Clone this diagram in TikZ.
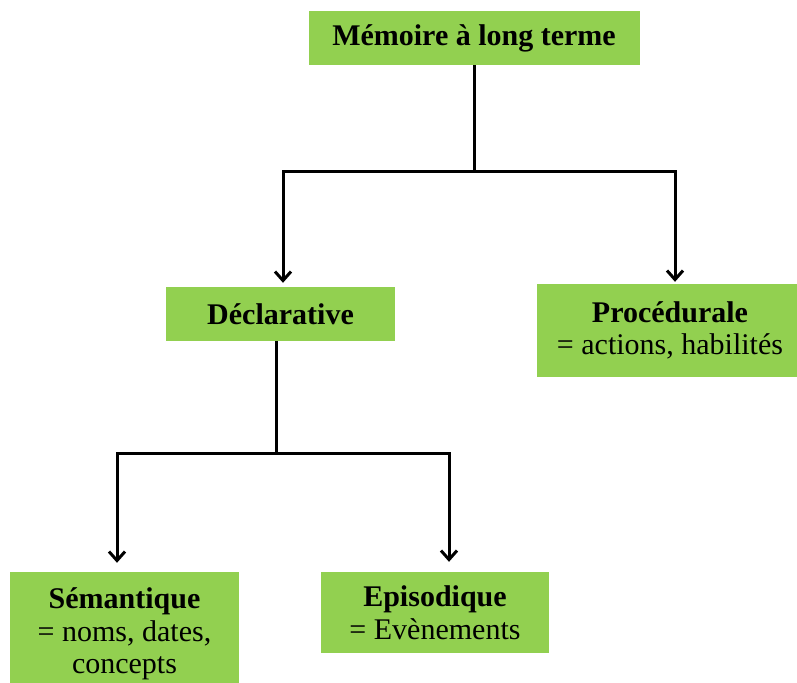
\documentclass[tikz,border=0pt]{standalone}
\usepackage{fontspec}
\setmainfont{Liberation Serif}
\usetikzlibrary{arrows.meta}
\definecolor{boxgreen}{HTML}{92D050}
\newcommand{\hd}[1]{{\bfseries #1}}
\begin{document}
\begin{tikzpicture}[x=1pt,y=-1pt,
  box/.style={rectangle, fill=boxgreen, draw=none, inner sep=0pt, align=center,
    font=\fontsize{30}{32.5}\selectfont},
  link/.style={line width=3pt, black},
  arr/.style={link, -{Straight Barb[length=9pt,width=16pt,line width=3pt]}}]
\useasboundingbox (0,0) rectangle (797,682);
\node[box, minimum width=331pt, minimum height=54pt] (top) at (474,38) {\hd{Mémoire à long terme}};
\node[box, minimum width=229pt, minimum height=54pt] (decl) at (280.5,314) {\hd{Déclarative}};
\node[box, minimum width=266pt, minimum height=93pt] (proc) at (670,330.5) {\hd{Procédurale}\\= actions, habilités};
\node[box, minimum width=229pt, minimum height=124pt] (sem) at (124.5,634) {\hd{Sémantique}\\= noms, dates,\\concepts};
\node[box, minimum width=228pt, minimum height=81pt] (epi) at (435,612.5) {\hd{Episodique}\\= Evènements};
\coordinate (j1) at (474,171);
\coordinate (j2) at (276,453);
\draw[link] (top.south) -- (j1);
\draw[arr] (j1) -| ([xshift=5pt,yshift=2pt]proc.north);
\draw[arr] (j1) -| ([xshift=2.5pt,yshift=4pt]decl.north);
\draw[link] ([xshift=-4.5pt]decl.south) -- (j2);
\draw[arr] (j2) -| ([xshift=-7.5pt,yshift=9pt]sem.north);
\draw[arr] (j2) -| ([xshift=14pt,yshift=10pt]epi.north);
\end{tikzpicture}
\end{document}
